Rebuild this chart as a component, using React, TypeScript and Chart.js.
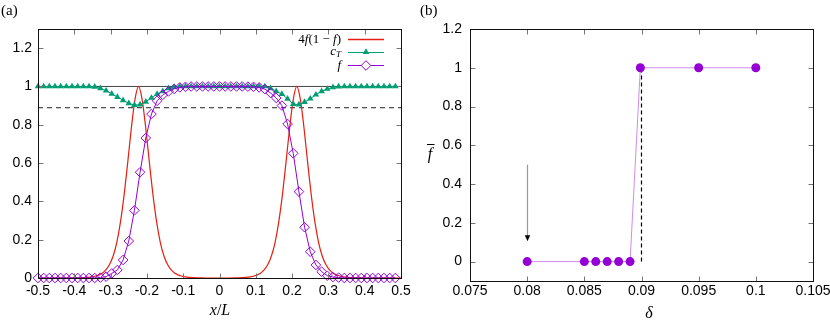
import React, { useEffect, useRef } from 'react';
import { Chart, registerables } from 'chart.js';

Chart.register(...registerables);

// ---------- Panel (a) data ----------
const xGridA = [
  -0.5, -0.4844, -0.4688, -0.4531, -0.4375, -0.4219, -0.4063, -0.3906, -0.375, -0.3594, -0.3438, -0.3281,
  -0.3125, -0.2969, -0.2813, -0.2656, -0.25, -0.2344, -0.2188, -0.2031, -0.1875, -0.1719, -0.1563, -0.1406,
  -0.125, -0.1094, -0.0938, -0.0781, -0.0625, -0.0469, -0.0313, -0.0156, 0, 0.0156, 0.0313, 0.0469, 0.0625,
  0.0781, 0.0938, 0.1094, 0.125, 0.1406, 0.1563, 0.1719, 0.1875, 0.2031, 0.2188, 0.2344, 0.25, 0.2656,
  0.2813, 0.2969, 0.3125, 0.3281, 0.3438, 0.3594, 0.375, 0.3906, 0.4063, 0.4219, 0.4375, 0.4531, 0.4688, 0.4844,
];
const fVals = [
  0, 0, 0, 0, 0, 0, 0, 0, 0, 0, 0,
  0.002, 0.007, 0.024, 0.042, 0.094, 0.193, 0.353, 0.552, 0.731, 0.856, 0.925, 0.956, 0.974, 0.987, 0.995,
  0.998,
  1, 1, 1, 1, 1, 1, 1, 1, 1, 1,
  0.999, 0.998, 0.995, 0.986, 0.966, 0.94, 0.9, 0.804, 0.651, 0.451, 0.265, 0.137, 0.068, 0.033, 0.012, 0.005, 0.002,
  0, 0, 0, 0, 0, 0, 0, 0, 0, 0,
];
const cTVals = [
  1, 1, 1, 1, 1, 1, 1, 1, 1, 1,
  0.998, 0.99, 0.978, 0.962, 0.945, 0.928, 0.912, 0.903, 0.905, 0.92, 0.94, 0.96, 0.975, 0.99, 0.997,
  1, 1, 1, 1, 1, 1, 1, 1, 1, 1, 1, 1, 1, 1, 1, 1,
  0.99, 0.975, 0.96, 0.935, 0.908, 0.905, 0.918, 0.936, 0.957, 0.975, 0.987, 0.995, 0.999,
  1, 1, 1, 1, 1, 1, 1, 1, 1, 1,
];
const peakX = [
  -0.5, -0.423, -0.393, -0.363, -0.343, -0.323, -0.313, -0.303, -0.293, -0.283, -0.273, -0.263, -0.253, -0.243,
  -0.233, -0.223, -0.213, -0.203, -0.193, -0.183, -0.173, -0.163, -0.153, -0.143, -0.133, -0.123, -0.103, -0.083,
  -0.053, -0.023,
  0.013, 0.043, 0.073, 0.093, 0.113, 0.123, 0.133, 0.143, 0.153, 0.163, 0.173, 0.183, 0.193, 0.203, 0.213, 0.223,
  0.233, 0.243, 0.253, 0.263, 0.273, 0.283, 0.293, 0.303, 0.313, 0.333, 0.353, 0.383, 0.413, 0.5,
];
const peakY = [
  0, 0, 0.001, 0.003, 0.009, 0.025, 0.042, 0.07, 0.115, 0.185, 0.29, 0.43, 0.6, 0.78, 0.93, 1, 0.93, 0.78, 0.6,
  0.43, 0.29, 0.185, 0.115, 0.07, 0.042, 0.025, 0.009, 0.003, 0.001, 0,
  0, 0.001, 0.003, 0.009, 0.025, 0.042, 0.07, 0.115, 0.185, 0.29, 0.43, 0.6, 0.78, 0.93, 1, 0.93, 0.78, 0.6,
  0.43, 0.29, 0.185, 0.115, 0.07, 0.042, 0.025, 0.009, 0.003, 0.001, 0, 0,
];
const refLineX = [-0.5, 0.5];
const unitLineY = [1, 1];
const thresholdY = [0.889, 0.889];
const xTicksA = [-0.5, -0.4, -0.3, -0.2, -0.1, 0, 0.1, 0.2, 0.3, 0.4, 0.5];
const xTickLabelsA = ['-0.5', '-0.4', '-0.3', '-0.2', '-0.1', '0', '0.1', '0.2', '0.3', '0.4', '0.5'];
const yTicksA = [0, 0.2, 0.4, 0.6, 0.8, 1, 1.2];
const yTickLabelsA = ['0', '0.2', '0.4', '0.6', '0.8', '1', '1.2'];

// ---------- Panel (b) data ----------
const deltaVals = [0.08, 0.085, 0.086, 0.087, 0.088, 0.089, 0.0899, 0.095, 0.1];
const fBarVals = [0, 0, 0, 0, 0, 0, 1, 1, 1];
const critDeltaX = [0.09, 0.09];
const critLineY = [0, 1];
const arrowX = 0.08;
const arrowFromY = 0.5;
const arrowToY = 0.105;
const xTicksB = [0.075, 0.08, 0.085, 0.09, 0.095, 0.1, 0.105];
const xTickLabelsB = ['0.075', '0.08', '0.085', '0.09', '0.095', '0.1', '0.105'];
const yTicksB = [0, 0.2, 0.4, 0.6, 0.8, 1, 1.2];
const yTickLabelsB = ['0', '0.2', '0.4', '0.6', '0.8', '1', '1.2'];

// ---------- styles ----------
const PURPLE = '#9400d3';
const GREEN = '#009e73';
const RED = '#e51e10';
const SANS = "'Liberation Sans', Arial, sans-serif";
const SERIF = "'Liberation Serif', 'DejaVu Serif', serif";

function framePlugin(xt: number[], yt: number[]) {
  return {
    id: 'frame',
    afterDatasetsDraw(chart: any) {
      const { ctx, chartArea: a, scales } = chart;
      const L = Math.round(a.left) + 0.5;
      const R = Math.round(a.right) + 0.5;
      const T = Math.round(a.top) + 0.5;
      const B = Math.round(a.bottom) + 0.5;
      const tl = 5;
      ctx.save();
      ctx.strokeStyle = '#777';
      ctx.lineWidth = 1;
      ctx.setLineDash([]);
      ctx.beginPath();
      for (const v of xt) {
        const px = Math.round(scales.x.getPixelForValue(v)) + 0.5;
        ctx.moveTo(px, B); ctx.lineTo(px, B - tl);
        ctx.moveTo(px, T); ctx.lineTo(px, T + tl);
      }
      for (const v of yt) {
        const py = Math.round(scales.y.getPixelForValue(v)) + 0.5;
        ctx.moveTo(L, py); ctx.lineTo(L + tl, py);
        ctx.moveTo(R, py); ctx.lineTo(R - tl, py);
      }
      ctx.stroke();
      ctx.strokeStyle = '#111';
      ctx.strokeRect(L, T, R - L, B - T);
      ctx.restore();
    },
  };
}

type Piece = { t: string; font: string; dy?: number };

function drawPieces(ctx: CanvasRenderingContext2D, pieces: Piece[], x0: number, y: number, align: 'left' | 'right' | 'center') {
  let total = 0;
  const widths = pieces.map((p) => {
    ctx.font = p.font;
    const w = ctx.measureText(p.t).width;
    total += w;
    return w;
  });
  let x = align === 'left' ? x0 : align === 'right' ? x0 - total : x0 - total / 2;
  ctx.textAlign = 'left';
  ctx.textBaseline = 'alphabetic';
  pieces.forEach((p, i) => {
    ctx.font = p.font;
    ctx.fillText(p.t, x, y + (p.dy || 0));
    x += widths[i];
  });
}

function drawTriangle(ctx: CanvasRenderingContext2D, x: number, y: number, r: number) {
  ctx.beginPath();
  ctx.moveTo(x, y - r);
  ctx.lineTo(x + r * 0.866, y + r * 0.5);
  ctx.lineTo(x - r * 0.866, y + r * 0.5);
  ctx.closePath();
  ctx.fill();
}

function drawDiamond(ctx: CanvasRenderingContext2D, x: number, y: number, r: number) {
  ctx.beginPath();
  ctx.moveTo(x, y - r);
  ctx.lineTo(x + r, y);
  ctx.lineTo(x, y + r);
  ctx.lineTo(x - r, y);
  ctx.closePath();
  ctx.stroke();
}

function legendLine(ctx: CanvasRenderingContext2D, color: string, x0: number, x1: number, y: number, w: number) {
  ctx.save();
  ctx.setLineDash([]);
  ctx.strokeStyle = color;
  ctx.lineWidth = w;
  ctx.beginPath();
  ctx.moveTo(x0, y);
  ctx.lineTo(x1, y);
  ctx.stroke();
  ctx.restore();
}

const textPluginA = {
  id: 'textA',
  afterDraw(chart: any) {
    const ctx: CanvasRenderingContext2D = chart.ctx;
    ctx.save();
    ctx.setLineDash([]);
    ctx.fillStyle = '#000';
    const up = `15px ${SERIF}`;
    drawPieces(ctx, [{ t: '(a)', font: up }], 1, 15, 'left');
    const it16 = `italic 16px ${SERIF}`;
    const up16 = `16px ${SERIF}`;
    drawPieces(ctx, [{ t: 'x', font: it16 }, { t: '/', font: up16 }, { t: 'L', font: it16 }], 220, 315, 'center');
    // legend
    const it = `italic 13px ${SERIF}`;
    const rm = `13px ${SERIF}`;
    const textRight = 341;
    const lx0 = 348;
    const lx1 = 384;
    const mid = (lx0 + lx1) / 2;
    drawPieces(ctx, [
      { t: '4', font: rm }, { t: 'f', font: it }, { t: '(1 \u2212 ', font: rm }, { t: 'f', font: it }, { t: ')', font: rm },
    ], textRight, 43, 'right');
    drawPieces(ctx, [{ t: 'c', font: it }, { t: 'T', font: `italic 9px ${SERIF}`, dy: 2 }], textRight, 55, 'right');
    drawPieces(ctx, [{ t: 'f', font: it }], textRight, 69, 'right');
    legendLine(ctx, RED, lx0, lx1, 39.5, 1.3);
    legendLine(ctx, GREEN, lx0, lx1, 52.5, 1.1);
    ctx.fillStyle = GREEN;
    drawTriangle(ctx, mid, 52, 3.8);
    legendLine(ctx, PURPLE, lx0, lx1, 65.5, 1.1);
    ctx.fillStyle = '#fff';
    ctx.beginPath(); ctx.moveTo(mid, 60.7); ctx.lineTo(mid + 4.8, 65.5); ctx.lineTo(mid, 70.3); ctx.lineTo(mid - 4.8, 65.5); ctx.closePath(); ctx.fill();
    ctx.strokeStyle = PURPLE;
    ctx.lineWidth = 1;
    drawDiamond(ctx, mid, 65.5, 4.8);
    ctx.restore();
  },
};

const textPluginB = {
  id: 'textB',
  afterDraw(chart: any) {
    const ctx: CanvasRenderingContext2D = chart.ctx;
    const { scales } = chart;
    ctx.save();
    ctx.setLineDash([]);
    // arrow
    const ax = Math.round(scales.x.getPixelForValue(arrowX)) + 0.5;
    const ay0 = scales.y.getPixelForValue(arrowFromY);
    const ay1 = scales.y.getPixelForValue(arrowToY);
    ctx.strokeStyle = '#999';
    ctx.lineWidth = 1.2;
    ctx.beginPath(); ctx.moveTo(ax, ay0); ctx.lineTo(ax, ay1 - 5); ctx.stroke();
    ctx.fillStyle = '#000';
    ctx.beginPath(); ctx.moveTo(ax, ay1); ctx.lineTo(ax - 2.7, ay1 - 6); ctx.lineTo(ax + 2.7, ay1 - 6); ctx.closePath(); ctx.fill();
    // labels
    ctx.fillStyle = '#000';
    drawPieces(ctx, [{ t: '(b)', font: `15px ${SERIF}` }], 5, 15, 'left');
    drawPieces(ctx, [{ t: '\u03b4', font: `italic 16px ${SERIF}` }], 234, 318, 'center');
    drawPieces(ctx, [{ t: 'f', font: `italic 16px ${SERIF}` }], 15, 159, 'center');
    ctx.strokeStyle = '#000';
    ctx.lineWidth = 1;
    ctx.beginPath(); ctx.moveTo(12, 144.5); ctx.lineTo(19.5, 144.5); ctx.stroke();
    ctx.restore();
  },
};

function axisCommon(ticks: number[], labels: string[], min: number, max: number, pad: number, fitFn: (s: any) => void) {
  return {
    type: 'linear',
    min,
    max,
    grid: { display: false, drawTicks: false },
    border: { display: false },
    afterBuildTicks: (s: any) => {
      s.ticks = ticks.map((v) => ({ value: v }));
    },
    afterFit: fitFn,
    ticks: {
      autoSkip: false,
      maxRotation: 0,
      minRotation: 0,
      padding: pad,
      color: '#000',
      font: { family: SANS, size: 14 },
      callback: (_v: any, i: number) => labels[i],
    },
  };
}

export default function App() {
  const refA = useRef<HTMLCanvasElement>(null);
  const refB = useRef<HTMLCanvasElement>(null);

  useEffect(() => {
    const chartA = new Chart(refA.current as HTMLCanvasElement, {
      type: 'line',
      data: {
        datasets: [
          {
            data: xGridA.map((x, i) => ({ x, y: fVals[i] })),
            borderColor: PURPLE,
            borderWidth: 1,
            pointStyle: 'rectRot',
            pointRadius: 4.8,
            pointBorderColor: PURPLE,
            pointBackgroundColor: 'rgba(0,0,0,0)',
            pointBorderWidth: 1,
            clip: false,
          },
          {
            data: xGridA.map((x, i) => ({ x, y: cTVals[i] })),
            borderColor: GREEN,
            borderWidth: 1,
            pointStyle: 'triangle',
            pointRadius: 3.8,
            pointBorderColor: GREEN,
            pointBackgroundColor: GREEN,
            pointBorderWidth: 0,
            clip: false,
          },
          {
            data: peakX.map((x, i) => ({ x, y: peakY[i] })),
            borderColor: RED,
            borderWidth: 1.2,
            pointRadius: 0,
            cubicInterpolationMode: 'monotone',
          },
          {
            data: refLineX.map((x, i) => ({ x, y: unitLineY[i] })),
            borderColor: '#444',
            borderWidth: 1,
            pointRadius: 0,
          },
          {
            data: refLineX.map((x, i) => ({ x, y: thresholdY[i] })),
            borderColor: '#222',
            borderWidth: 1,
            borderDash: [5, 4],
            pointRadius: 0,
          },
        ],
      } as any,
      options: {
        animation: false,
        responsive: false,
        devicePixelRatio: 1,
        events: [],
        layout: { padding: { left: 0, right: 14, top: 29, bottom: 0 } },
        plugins: { legend: { display: false }, tooltip: { enabled: false } },
        scales: {
          x: axisCommon(xTicksA, xTickLabelsA, -0.5, 0.5, 5, (s: any) => {
            s.height = 44; s.paddingLeft = 0; s.paddingRight = 0;
          }),
          y: axisCommon(yTicksA, yTickLabelsA, 0, 1.3, 6, (s: any) => {
            s.width = 38; s.paddingTop = 0; s.paddingBottom = 0;
          }),
        },
      } as any,
      plugins: [framePlugin(xTicksA, yTicksA), textPluginA],
    });

    const chartB = new Chart(refB.current as HTMLCanvasElement, {
      type: 'line',
      data: {
        datasets: [
          {
            data: deltaVals.map((x, i) => ({ x, y: fBarVals[i] })),
            borderColor: 'rgba(148,0,211,0.45)',
            borderWidth: 1,
            pointRadius: 4.5,
            pointBackgroundColor: PURPLE,
            pointBorderColor: PURPLE,
            pointBorderWidth: 0,
            clip: false,
          },
          {
            data: critDeltaX.map((x, i) => ({ x, y: critLineY[i] })),
            borderColor: '#000',
            borderWidth: 1.2,
            borderDash: [4, 3],
            pointRadius: 0,
          },
        ],
      } as any,
      options: {
        animation: false,
        responsive: false,
        devicePixelRatio: 1,
        events: [],
        layout: { padding: { left: 0, right: 17, top: 29, bottom: 0 } },
        plugins: { legend: { display: false }, tooltip: { enabled: false } },
        scales: {
          x: axisCommon(xTicksB, xTickLabelsB, 0.075, 0.105, 2, (s: any) => {
            s.height = 41; s.paddingLeft = 0; s.paddingRight = 0;
          }),
          y: axisCommon(yTicksB, yTickLabelsB, -0.1, 1.2, 8, (s: any) => {
            s.width = 55; s.paddingTop = 0; s.paddingBottom = 0;
          }),
        },
      } as any,
      plugins: [framePlugin(xTicksB, yTicksB), textPluginB],
    });

    return () => {
      chartA.destroy();
      chartB.destroy();
    };
  }, []);

  return (
    <div style={{ position: 'fixed', left: 0, top: 0, width: 830, height: 322, background: '#fff' }}>
      <canvas ref={refA} width={415} height={322} style={{ position: 'absolute', left: 0, top: 0, width: 415, height: 322 }} />
      <canvas ref={refB} width={415} height={322} style={{ position: 'absolute', left: 415, top: 0, width: 415, height: 322 }} />
    </div>
  );
}
